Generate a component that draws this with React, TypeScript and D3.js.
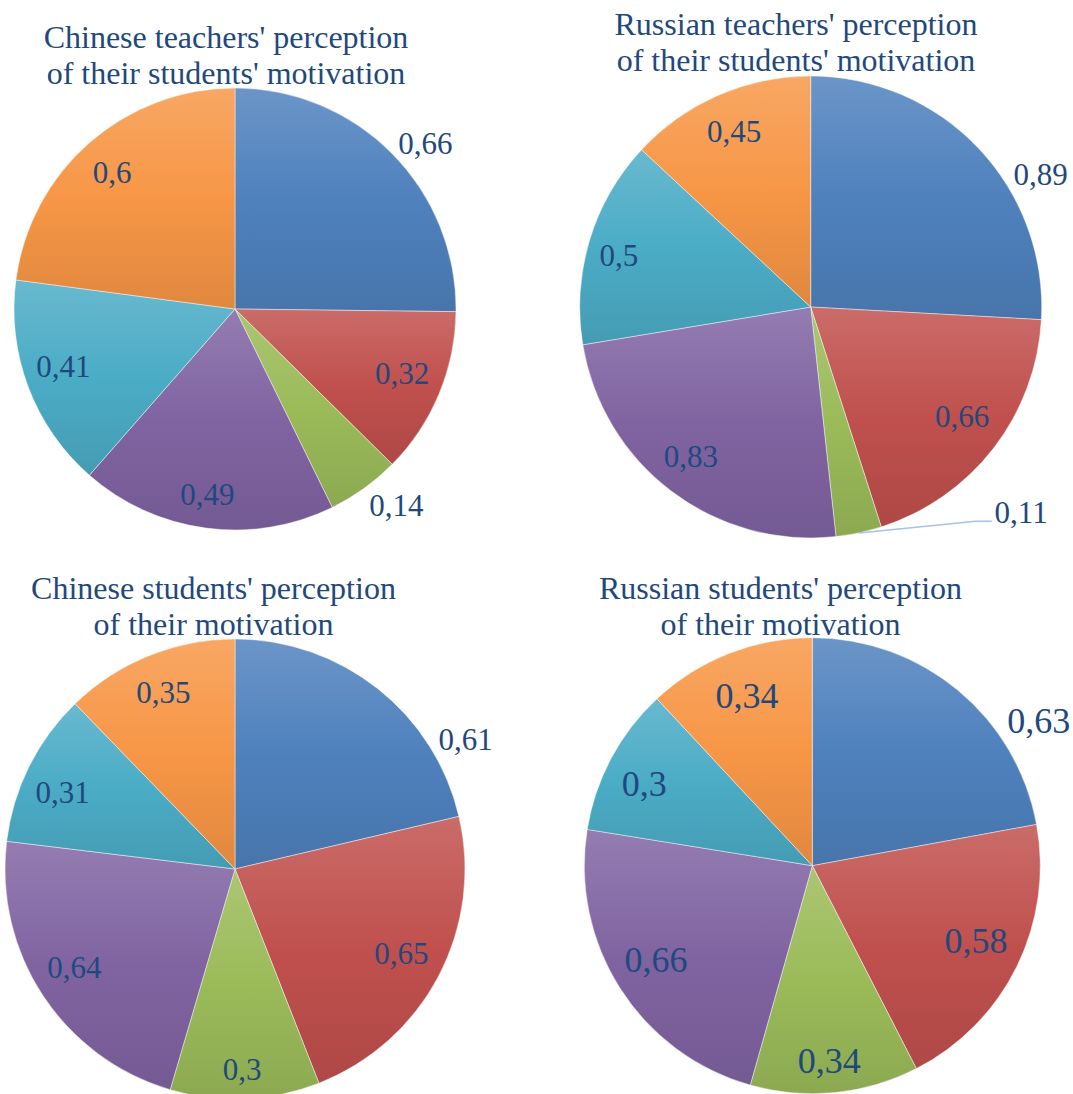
import React from "react";
import * as d3 from "d3";

// ---- Data ----
const seriesColors = ["#4F81BD", "#C0504D", "#9BBB59", "#8064A2", "#4BACC6", "#F79646"];

const chineseTeachers = [0.66, 0.32, 0.14, 0.49, 0.41, 0.6];
const russianTeachers = [0.89, 0.66, 0.11, 0.83, 0.5, 0.45];
const chineseStudents = [0.61, 0.65, 0.3, 0.64, 0.31, 0.35];
const russianStudents = [0.63, 0.58, 0.34, 0.66, 0.3, 0.34];

const chineseTeachersTitle = ["Chinese teachers' perception", "of their students' motivation"];
const russianTeachersTitle = ["Russian teachers' perception", "of their students' motivation"];
const chineseStudentsTitle = ["Chinese students' perception", "of their motivation"];
const russianStudentsTitle = ["Russian students' perception", "of their motivation"];

// ---- Layout (positions / styles) ----
type LabelPos = { da: number; k: number; leader?: boolean };
type ChartCfg = {
  id: string;
  values: number[];
  title: string[];
  cx: number;
  cy: number;
  r: number;
  tx: number;
  ty: number;
  labelSize: number;
  labels: LabelPos[];
};

const charts: ChartCfg[] = [
  {
    id: "ct", values: chineseTeachers, title: chineseTeachersTitle,
    cx: 235, cy: 309, r: 221, tx: 226, ty: 47.5, labelSize: 31,
    labels: [
      { da: 3.7, k: 1.14 }, { da: -1.7, k: 0.81 }, { da: -3.7, k: 1.15 },
      { da: 0.9, k: 0.85 }, { da: 2, k: 0.82 }, { da: -0.8, k: 0.83 },
    ],
  },
  {
    id: "rt", values: russianTeachers, title: russianTeachersTitle,
    cx: 810.7, cy: 307, r: 231, tx: 796, ty: 35, labelSize: 31,
    labels: [
      { da: 13.4, k: 1.15 }, { da: -1.7, k: 0.81 }, { da: -33.6, k: 1.274, leader: true },
      { da: 1.5, k: 0.83 }, { da: -1.8, k: 0.86 }, { da: 0, k: 0.83 },
    ],
  },
  {
    id: "cs", values: chineseStudents, title: chineseStudentsTitle,
    cx: 235, cy: 869, r: 230, tx: 213.5, ty: 599.3, labelSize: 31,
    labels: [
      { da: 22.3, k: 1.15 }, { da: -0.9, k: 0.81 }, { da: 0.5, k: 0.87 },
      { da: 1.8, k: 0.82 }, { da: -2.5, k: 0.82 }, { da: 0, k: 0.83 },
    ],
  },
  {
    id: "rs", values: russianStudents, title: russianStudentsTitle,
    cx: 812.3, cy: 865.7, r: 228, tx: 780.5, ty: 599.3, labelSize: 36,
    labels: [
      { da: 17.5, k: 1.18 }, { da: -1.6, k: 0.79 }, { da: 0.7, k: 0.86 },
      { da: 1.5, k: 0.8 }, { da: -2.2, k: 0.82 }, { da: 0.5, k: 0.8 },
    ],
  },
];

const textColor = "#1F497D";
const fontFamily = "Liberation Serif, Tinos, Times New Roman, DejaVu Serif, Noto Serif, serif";

function fmt(v: number) {
  return String(v).replace(".", ",");
}

function Pie({ cfg }: { cfg: ChartCfg }) {
  const pie = d3.pie<number>().sort(null).value((d) => d);
  const arcs = pie(cfg.values);
  const arc = d3.arc<d3.PieArcDatum<number>>().innerRadius(0).outerRadius(cfg.r);

  const polar = (angDeg: number, rad: number) => {
    const a = (angDeg * Math.PI) / 180;
    return [cfg.cx + rad * Math.sin(a), cfg.cy - rad * Math.cos(a)];
  };

  return (
    <g>
      <g transform={`translate(${cfg.cx},${cfg.cy})`}>
        {arcs.map((a, i) => (
          <path
            key={i}
            d={arc(a) || ""}
            fill={`url(#grad-${i})`}
            stroke="#ffffff"
            strokeOpacity={0.55}
            strokeWidth={0.8}
          />
        ))}
      </g>
      {arcs.map((a, i) => {
        const lp = cfg.labels[i];
        const mid = (((a.startAngle + a.endAngle) / 2) * 180) / Math.PI;
        const [x, y] = polar(mid + lp.da, cfg.r * lp.k);
        const text = fmt(a.data);
        const baseline = y + cfg.labelSize * 0.34;
        let leader = null;
        if (lp.leader) {
          const [sx, sy] = polar(mid, cfg.r);
          const w = text.length * cfg.labelSize * 0.44;
          const ex = x - w / 2 - 2;
          const ey = baseline - 2;
          leader = (
            <polyline
              points={`${sx},${sy} ${ex - 16},${ey} ${ex},${ey}`}
              fill="none"
              stroke="#A3C3E8"
              strokeWidth={1.5}
            />
          );
        }
        return (
          <g key={i}>
            {leader}
            <text
              x={x}
              y={baseline}
              textAnchor="middle"
              fontSize={cfg.labelSize}
              fill={textColor}
              style={{ fontFamily }}
            >
              {text}
            </text>
          </g>
        );
      })}
      <text
        textAnchor="middle"
        fontSize={32}
        fill={textColor}
        style={{ fontFamily }}
      >
        {cfg.title.map((line, i) => (
          <tspan key={i} x={cfg.tx} y={cfg.ty + i * 36}>
            {line}
          </tspan>
        ))}
      </text>
    </g>
  );
}

export default function App() {
  return (
    <svg
      width={1073}
      height={1094}
      style={{ position: "absolute", left: 0, top: 0, display: "block", background: "#ffffff" }}
    >
      <defs>
        {seriesColors.map((c, i) => {
          const top = d3.interpolateRgb(c, "#ffffff")(0.16);
          const bottom = d3.color(c)!.darker(0.28).formatHex();
          return (
            <linearGradient key={i} id={`grad-${i}`} x1="0" y1="0" x2="0" y2="1">
              <stop offset="0" stopColor={top} />
              <stop offset="0.5" stopColor={c} />
              <stop offset="1" stopColor={bottom} />
            </linearGradient>
          );
        })}
      </defs>
      <rect x={0} y={0} width={1073} height={1094} fill="#ffffff" />
      {charts.map((c) => (
        <Pie key={c.id} cfg={c} />
      ))}
    </svg>
  );
}
